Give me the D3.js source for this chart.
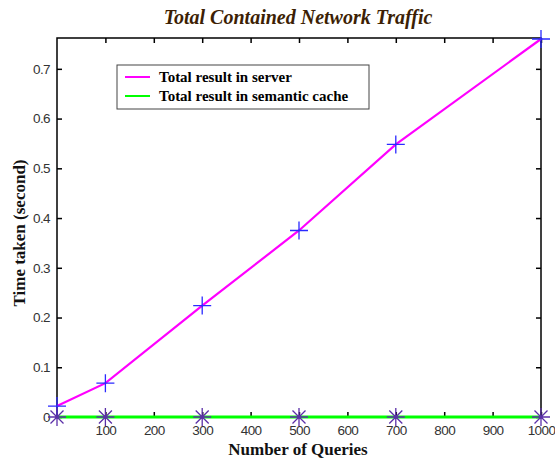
<!DOCTYPE html>
<html>
<head>
<meta charset="utf-8">
<script src="https://cdn.jsdelivr.net/npm/d3@7"></script>
<style>
  body { margin: 0; background: #fff; }
  .tick text { font-family: "Liberation Sans", Arial, sans-serif; font-size: 13.5px; letter-spacing: -0.6px; fill: #333; }
</style>
</head>
<body>
<div id="chart"></div>
<script>
const queries = [0, 100, 300, 500, 700, 1000];
const serverTime = [0.022, 0.068, 0.224, 0.375, 0.548, 0.76];
const cacheTime = [0, 0, 0, 0, 0, 0];
const xTicks = [100, 200, 300, 400, 500, 600, 700, 800, 900, 1000];
const yTicks = [0, 0.1, 0.2, 0.3, 0.4, 0.5, 0.6, 0.7];
const seriesNames = ["Total result in server", "Total result in semantic cache"];

const W = 555, H = 462;
const margin = { top: 38, right: 14, bottom: 45, left: 57 },
  width = W - margin.left - margin.right,
  height = H - margin.top - margin.bottom;

const svg = d3.select("#chart").append("svg")
  .attr("width", W).attr("height", H);

const g = svg.append("g")
  .attr("transform", `translate(${margin.left},${margin.top})`);

const x = d3.scaleLinear().domain([0, 1000]).range([0, width]);
const y = d3.scaleLinear().domain([0, 0.762]).range([height, 0]);

// axes, ticks pointing inward like matlab
g.append("g")
  .attr("transform", `translate(0,${height})`)
  .call(d3.axisBottom(x).tickValues(xTicks).tickSizeInner(-5).tickSizeOuter(0).tickPadding(8).tickFormat(d3.format("d")))
  .call(a => a.select(".domain").remove());
g.append("g")
  .call(d3.axisTop(x).tickValues(xTicks).tickSizeInner(-5).tickSizeOuter(0).tickFormat(""))
  .call(a => a.select(".domain").remove());
g.append("g")
  .call(d3.axisLeft(y).tickValues(yTicks).tickSizeInner(-5).tickSizeOuter(0).tickPadding(7).tickFormat(d => d === 0 ? "0" : d3.format(".1f")(d)))
  .call(a => a.select(".domain").remove());
g.append("g")
  .attr("transform", `translate(${width},0)`)
  .call(d3.axisRight(y).tickValues(yTicks).tickSizeInner(-5).tickSizeOuter(0).tickFormat(""))
  .call(a => a.select(".domain").remove());
g.selectAll(".tick line").attr("stroke", "#000").attr("stroke-width", 1.5);

g.append("rect")
  .attr("width", width).attr("height", height)
  .attr("fill", "none").attr("stroke", "#000").attr("stroke-width", 1.5);

const line = d3.line().x((d, i) => x(queries[i])).y(d => y(d));

g.append("path").datum(serverTime)
  .attr("fill", "none").attr("stroke", "#ff00ff").attr("stroke-width", 2.2)
  .attr("d", line);
g.append("path").datum(cacheTime)
  .attr("fill", "none").attr("stroke", "#00ff00").attr("stroke-width", 3)
  .attr("d", line);

// '+' markers on server
const s = 9;
g.selectAll(".plus").data(serverTime).join("path")
  .attr("class", "plus")
  .attr("d", (d, i) => {
    const cx = x(queries[i]), cy = y(d);
    return `M${cx - s},${cy}H${cx + s}M${cx},${cy - s}V${cy + s}`;
  })
  .attr("stroke", "#2a2aff").attr("stroke-width", 1.3).attr("fill", "none");

// '*' markers on cache
const r = 9, dd = 6.5;
g.selectAll(".star").data(cacheTime).join("path")
  .attr("class", "star")
  .attr("d", (d, i) => {
    const cx = x(queries[i]), cy = y(d);
    return `M${cx - r},${cy}H${cx + r}M${cx},${cy - r}V${cy + r}` +
      `M${cx - dd},${cy - dd}L${cx + dd},${cy + dd}M${cx - dd},${cy + dd}L${cx + dd},${cy - dd}`;
  })
  .attr("stroke", "#5b2fa8").attr("stroke-width", 1.3).attr("fill", "none");

// legend
const leg = g.append("g").attr("transform", `translate(${117 - margin.left},${65 - margin.top})`);
leg.append("rect").attr("width", 252).attr("height", 44)
  .attr("fill", "#fff").attr("stroke", "#444").attr("stroke-width", 1);
const legColors = ["#ff00ff", "#00ff00"];
seriesNames.forEach((name, i) => {
  const ly = 12 + i * 19;
  leg.append("line").attr("x1", 8).attr("x2", 33).attr("y1", ly).attr("y2", ly)
    .attr("stroke", legColors[i]).attr("stroke-width", 2);
  leg.append("text").attr("x", 42).attr("y", ly + 5)
    .attr("font-family", "'Liberation Serif', 'Times New Roman', serif")
    .attr("font-weight", "bold").attr("font-size", 15).attr("fill", "#000")
    .text(name);
});

// title and axis labels
svg.append("text")
  .attr("x", 298).attr("y", 24).attr("text-anchor", "middle")
  .attr("font-family", "'Liberation Serif', 'Times New Roman', serif")
  .attr("font-weight", "bold").attr("font-style", "italic").attr("font-size", 20)
  .attr("fill", "#3d1f05")
  .text("Total Contained Network Traffic");

svg.append("text")
  .attr("x", 298).attr("y", 455).attr("text-anchor", "middle")
  .attr("font-family", "'Liberation Serif', 'Times New Roman', serif")
  .attr("font-weight", "bold").attr("font-size", 17).attr("fill", "#111")
  .text("Number of Queries");

svg.append("text")
  .attr("transform", "translate(25,233) rotate(-90)").attr("text-anchor", "middle")
  .attr("font-family", "'Liberation Serif', 'Times New Roman', serif")
  .attr("font-weight", "bold").attr("font-size", 17).attr("fill", "#111")
  .text("Time taken (second)");
</script>
</body>
</html>
